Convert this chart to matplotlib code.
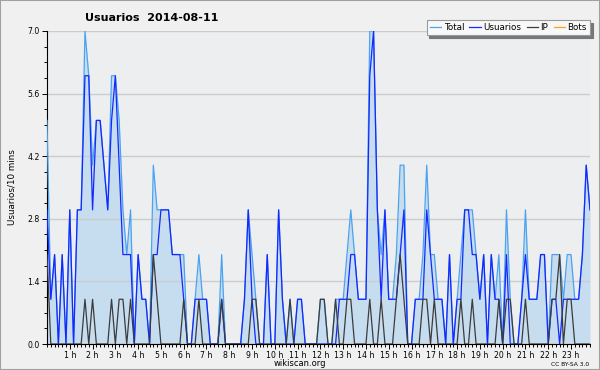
import matplotlib
matplotlib.use("Agg")
import matplotlib.pyplot as plt
import numpy as np
from matplotlib.patches import Rectangle
from matplotlib.lines import Line2D
from matplotlib.ticker import MultipleLocator

# active users per 10 minute slot on 2014-08-11, one row = 2 hours
total = [5, 1, 2, 0, 2, 0, 3, 0, 3, 3, 7, 6,
         4, 5, 5, 4, 3, 6, 6, 5, 3, 2, 3, 0,
         2, 1, 1, 0, 4, 3, 3, 3, 3, 2, 2, 2,
         2, 0, 0, 1, 2, 1, 1, 0, 0, 0, 2, 0,
         0, 0, 0, 0, 1, 3, 2, 1, 0, 0, 2, 0,
         0, 3, 1, 0, 1, 0, 1, 1, 0, 0, 0, 0,
         1, 1, 0, 0, 1, 1, 1, 2, 3, 2, 1, 1,
         1, 7, 7, 3, 2, 3, 1, 1, 2, 4, 4, 0,
         0, 1, 1, 2, 4, 2, 2, 1, 1, 0, 2, 0,
         1, 2, 3, 3, 3, 2, 1, 2, 0, 2, 1, 2,
         0, 3, 1, 0, 0, 1, 3, 1, 1, 1, 2, 2,
         0, 2, 2, 2, 1, 2, 2, 1, 1, 2, 4, 3]

usuarios = [3, 1, 2, 0, 2, 0, 3, 0, 3, 3, 6, 6,
            3, 5, 5, 4, 3, 5, 6, 4, 2, 2, 2, 0,
            2, 1, 1, 0, 2, 2, 3, 3, 3, 2, 2, 2,
            1, 0, 0, 1, 1, 1, 1, 0, 0, 0, 1, 0,
            0, 0, 0, 0, 1, 3, 1, 0, 0, 0, 2, 0,
            0, 3, 1, 0, 0, 0, 1, 1, 0, 0, 0, 0,
            0, 0, 0, 0, 0, 1, 1, 1, 2, 2, 1, 1,
            1, 6, 7, 3, 1, 3, 1, 1, 1, 2, 3, 0,
            0, 1, 1, 1, 3, 2, 1, 1, 1, 0, 2, 0,
            1, 1, 3, 3, 2, 2, 1, 2, 0, 2, 1, 1,
            0, 2, 0, 0, 0, 1, 2, 1, 1, 1, 2, 2,
            0, 1, 1, 0, 1, 1, 1, 1, 1, 2, 4, 3]

ip = [2, 0, 0, 0, 0, 0, 0, 0, 0, 0, 1, 0,
      1, 0, 0, 0, 0, 1, 0, 1, 1, 0, 1, 0,
      0, 0, 0, 0, 2, 1, 0, 0, 0, 0, 0, 0,
      1, 0, 0, 0, 1, 0, 0, 0, 0, 0, 1, 0,
      0, 0, 0, 0, 0, 0, 1, 1, 0, 0, 0, 0,
      0, 0, 0, 0, 1, 0, 0, 0, 0, 0, 0, 0,
      1, 1, 0, 0, 1, 0, 0, 1, 1, 0, 0, 0,
      0, 1, 0, 0, 1, 0, 0, 0, 1, 2, 1, 0,
      0, 0, 0, 1, 1, 0, 1, 0, 0, 0, 0, 0,
      0, 1, 0, 0, 1, 0, 0, 0, 0, 0, 0, 1,
      0, 1, 1, 0, 0, 0, 1, 0, 0, 0, 0, 0,
      0, 1, 1, 2, 0, 1, 1, 0, 0, 0, 0, 0]

bots = [0, 0, 0, 0, 0, 0, 0, 0, 0, 0, 0, 0,
        0, 0, 0, 0, 0, 0, 0, 0, 0, 0, 0, 0,
        0, 0, 0, 0, 0, 0, 0, 0, 0, 0, 0, 0,
        0, 0, 0, 0, 0, 0, 0, 0, 0, 0, 0, 0,
        0, 0, 0, 0, 0, 0, 0, 0, 0, 0, 0, 0,
        0, 0, 0, 0, 0, 0, 0, 0, 0, 0, 0, 0,
        0, 0, 0, 0, 0, 0, 0, 0, 0, 0, 0, 0,
        0, 0, 0, 0, 0, 0, 0, 0, 0, 0, 0, 0,
        0, 0, 0, 0, 0, 0, 0, 0, 0, 0, 0, 0,
        0, 0, 0, 0, 0, 0, 0, 0, 0, 0, 0, 0,
        0, 0, 0, 0, 0, 0, 0, 0, 0, 0, 0, 0,
        0, 0, 0, 0, 0, 0, 0, 0, 0, 0, 0, 0]

hour_slots = [6, 12, 18, 24, 30, 36, 42, 48, 54, 60, 66, 72,
              78, 84, 90, 96, 102, 108, 114, 120, 126, 132, 138]
hour_labels = ["1 h", "2 h", "3 h", "4 h", "5 h", "6 h", "7 h", "8 h",
               "9 h", "10 h", "11 h", "12 h", "13 h", "14 h", "15 h", "16 h",
               "17 h", "18 h", "19 h", "20 h", "21 h", "22 h", "23 h"]
y_ticks = [0.0, 1.4, 2.8, 4.2, 5.6, 7.0]
y_labels = ["0.0", "1.4", "2.8", "4.2", "5.6", "7.0"]

c_total = "#4ba3f0"
c_users = "#1428ff"
c_ip = "#3c3c3c"
c_bots = "#ffa31a"

W, H = 600, 370
fig = plt.figure(figsize=(W / 100, H / 100), dpi=100, facecolor="#f0f0f0")
ax = fig.add_axes([47 / W, 26 / H, 543 / W, 313 / H])
ax.set_facecolor("#eceef0")

x = np.arange(len(total))
ax.fill_between(x, total, 0, color="#c6dcef", lw=0, zorder=1)
ax.plot(x, bots, color=c_bots, lw=0.9, zorder=2)
ax.plot(x, total, color=c_total, lw=0.9, zorder=3)
ax.plot(x, usuarios, color=c_users, lw=0.9, zorder=4)
ax.plot(x, ip, color=c_ip, lw=0.9, zorder=5)

ax.set_xlim(0, len(total) - 1)
ax.set_ylim(0, 7)

# grid sits above the fill but under the lines
ax.set_axisbelow("line")
ax.yaxis.grid(True, color="#cccccc", lw=1)

ax.set_yticks(y_ticks)
ax.set_yticklabels(y_labels)
ax.yaxis.set_minor_locator(MultipleLocator(0.35))
ax.set_xticks(hour_slots)
ax.set_xticklabels(hour_labels)
ax.xaxis.set_minor_locator(MultipleLocator(1))

ax.tick_params(axis="both", which="major", direction="out", length=3.5,
               width=0.7, labelsize=5.6, pad=1.5, colors="black")
ax.tick_params(axis="both", which="minor", direction="out", length=2.2,
               width=0.7)
for s in ["top", "right"]:
    ax.spines[s].set_visible(False)
for s in ["left", "bottom"]:
    ax.spines[s].set_linewidth(0.8)

handles = [Line2D([], [], color=c_total, lw=0.9),
           Line2D([], [], color=c_users, lw=0.9),
           Line2D([], [], color=c_ip, lw=0.9),
           Line2D([], [], color=c_bots, lw=0.9)]
leg = fig.legend(handles, ["Total", "Usuarios", "IP", "Bots"], ncol=4,
                 loc="upper right", bbox_to_anchor=(590 / W, 1 - 20 / H),
                 bbox_transform=fig.transFigure, fontsize=6.3,
                 frameon=True, fancybox=False,
                 shadow={"color": "#777777", "alpha": 1.0},
                 edgecolor="#999999", facecolor="#f8f8f8", framealpha=1,
                 handlelength=1.3, handletextpad=0.3, columnspacing=0.6,
                 borderpad=0.35, borderaxespad=0)
leg.get_frame().set_linewidth(0.8)

fig.text(85 / W, 1 - 18 / H, "Usuarios  2014-08-11", fontsize=8,
         fontweight="bold", ha="left", va="center")
fig.text(12 / W, 1 - 187 / H, "Usuarios/10 mins", rotation=90,
         fontsize=6.3, ha="center", va="center")
fig.text(300 / W, 1 - 364 / H, "wikiscan.org", fontsize=6,
         ha="center", va="center")
fig.text(589 / W, 1 - 365 / H, "CC BY-SA 3.0", fontsize=4.3,
         ha="right", va="center")

fig.patches.append(Rectangle((0, 0), 1, 1, transform=fig.transFigure,
                             fill=False, edgecolor="#a0a0a0", lw=1.5))

fig.savefig("out.png", dpi=100, facecolor=fig.get_facecolor())
